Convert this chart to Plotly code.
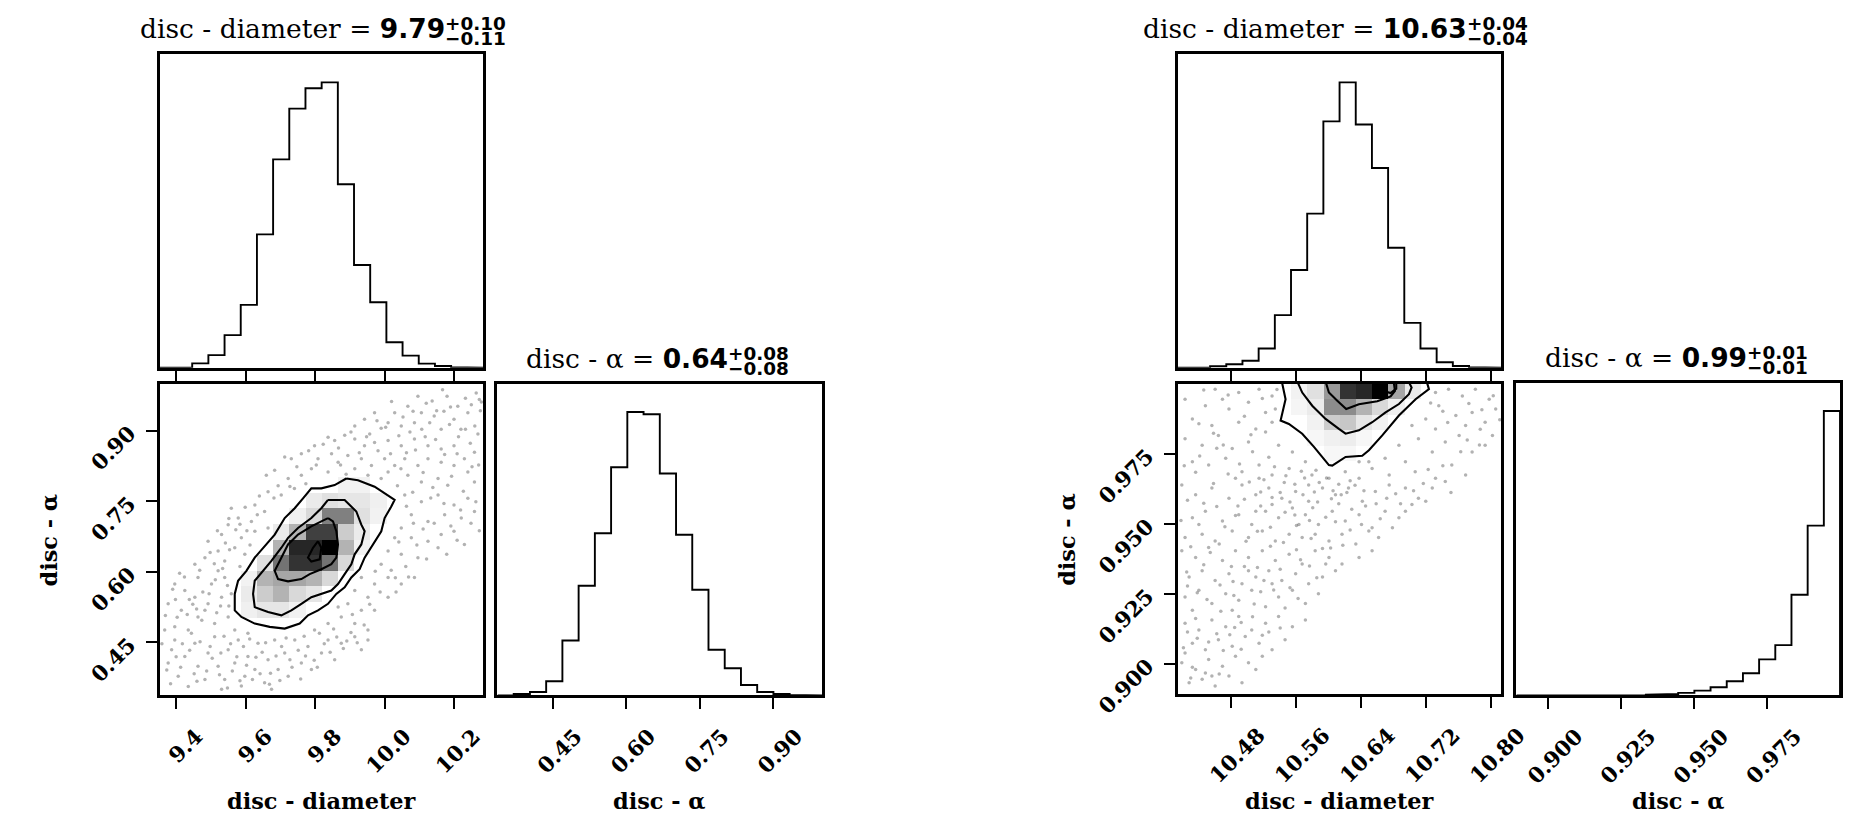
import plotly.graph_objects as go

# ---------------- data ----------------
N_BINS = 20
LEFT_DIAM_RANGE = [9.352, 10.285]
LEFT_ALPHA_RANGE = [0.337, 1.0]
RIGHT_DIAM_RANGE = [10.415, 10.813]
RIGHT_ALPHA_RANGE = [0.889, 1.0]

LEFT_DIAM_TICKS = [9.4, 9.6, 9.8, 10.0, 10.2]
LEFT_DIAM_TICKTEXT = ["9.4", "9.6", "9.8", "10.0", "10.2"]
LEFT_ALPHA_TICKS = [0.45, 0.60, 0.75, 0.90]
LEFT_ALPHA_TICKTEXT = ["0.45", "0.60", "0.75", "0.90"]
RIGHT_DIAM_TICKS = [10.48, 10.56, 10.64, 10.72, 10.80]
RIGHT_DIAM_TICKTEXT = ["10.48", "10.56", "10.64", "10.72", "10.80"]
RIGHT_ALPHA_TICKS = [0.900, 0.925, 0.950, 0.975]
RIGHT_ALPHA_TICKTEXT = ["0.900", "0.925", "0.950", "0.975"]

# relative histogram heights (peak = 1)
LEFT_DIAM_HIST = [0, 0, 0.015, 0.044, 0.114, 0.22, 0.467, 0.73, 0.908, 0.979,
                  1.0, 0.643, 0.36, 0.229, 0.089, 0.042, 0.014, 0.006, 0.002, 0]
LEFT_ALPHA_HIST = [0, 0.005, 0.012, 0.05, 0.194, 0.387, 0.572, 0.805, 1.0, 0.992,
                   0.783, 0.567, 0.373, 0.161, 0.096, 0.037, 0.012, 0.005, 0.002, 0]
RIGHT_DIAM_HIST = [0, 0, 0.005, 0.012, 0.024, 0.067, 0.184, 0.342, 0.54, 0.863,
                   1.0, 0.852, 0.70, 0.42, 0.157, 0.067, 0.019, 0.006, 0.002, 0]
RIGHT_ALPHA_HIST = [0, 0, 0, 0, 0, 0, 0, 0, 0.003, 0.005,
                    0.009, 0.017, 0.029, 0.05, 0.078, 0.127, 0.177, 0.354, 0.597, 1.0]

# 2D density cells: (x bin, y bin from bottom, relative density)
LEFT_DENSITY = [
    (11, 13, 0.05), (12, 13, 0.05),
    (9, 12, 0.08), (10, 12, 0.12), (11, 12, 0.10), (12, 12, 0.10), (13, 12, 0.06),
    (8, 11, 0.06), (9, 11, 0.15), (10, 11, 0.5), (11, 11, 0.5), (12, 11, 0.12), (13, 11, 0.05),
    (7, 10, 0.08), (8, 10, 0.3), (9, 10, 0.75), (10, 10, 0.75), (11, 10, 0.2), (12, 10, 0.08),
    (7, 9, 0.3), (8, 9, 0.85), (9, 9, 0.85), (10, 9, 1.0), (11, 9, 0.3), (12, 9, 0.05),
    (6, 8, 0.12), (7, 8, 0.55), (8, 8, 0.8), (9, 8, 0.8), (10, 8, 0.55), (11, 8, 0.15),
    (5, 7, 0.05), (6, 7, 0.3), (7, 7, 0.35), (8, 7, 0.35), (9, 7, 0.3), (10, 7, 0.15),
    (5, 6, 0.08), (6, 6, 0.2), (7, 6, 0.3), (8, 6, 0.15), (9, 6, 0.1),
    (5, 5, 0.06), (6, 5, 0.1), (7, 5, 0.1), (8, 5, 0.05),
]
RIGHT_DENSITY = [
    (7, 19, 0.05), (8, 19, 0.12), (9, 19, 0.4), (10, 19, 0.8), (11, 19, 0.85), (12, 19, 1.0), (13, 19, 0.35), (14, 19, 0.08),
    (7, 18, 0.04), (8, 18, 0.08), (9, 18, 0.45), (10, 18, 0.45), (11, 18, 0.3), (12, 18, 0.15), (13, 18, 0.06),
    (8, 17, 0.05), (9, 17, 0.2), (10, 17, 0.22), (11, 17, 0.1), (12, 17, 0.05),
    (8, 16, 0.03), (9, 16, 0.06), (10, 16, 0.07), (11, 16, 0.03),
    (9, 15, 0.03), (10, 15, 0.03),
]

# contour lines (outer -> inner)
LEFT_CONTOURS = [
    [(9.8896, 0.7982), (9.9232, 0.7947), (9.9712, 0.7807), (10.0, 0.7667), (10.0288, 0.7526),
     (10.0192, 0.7386), (10.0, 0.7141), (9.9904, 0.6861), (9.9664, 0.658), (9.9424, 0.63),
     (9.928, 0.6054), (9.904, 0.5879), (9.8848, 0.5669), (9.8608, 0.5529), (9.8368, 0.5318),
     (9.808, 0.5178), (9.7792, 0.5073), (9.7552, 0.4898), (9.712, 0.4792), (9.6688, 0.4828),
     (9.6256, 0.4898), (9.5872, 0.5038), (9.568, 0.5178), (9.568, 0.5529), (9.5776, 0.5809),
     (9.6016, 0.602), (9.6256, 0.63), (9.6496, 0.651), (9.6832, 0.679), (9.712, 0.7141),
     (9.7408, 0.7351), (9.7648, 0.7561), (9.7888, 0.7772), (9.8176, 0.7772), (9.856, 0.7842),
     (9.8896, 0.7982)],
    [(9.8368, 0.7526), (9.8848, 0.7526), (9.9184, 0.7281), (9.9328, 0.7001), (9.9424, 0.6861),
     (9.9328, 0.658), (9.9136, 0.637), (9.904, 0.616), (9.8848, 0.5949), (9.8656, 0.5739),
     (9.8464, 0.5599), (9.8176, 0.5529), (9.7888, 0.5458), (9.76, 0.5318), (9.7312, 0.5178),
     (9.7024, 0.5073), (9.664, 0.5143), (9.6256, 0.5248), (9.6208, 0.5529), (9.6256, 0.5809),
     (9.6496, 0.602), (9.6736, 0.623), (9.7024, 0.651), (9.7216, 0.672), (9.7504, 0.693),
     (9.7888, 0.7141), (9.8176, 0.7351), (9.8368, 0.7526)],
    [(9.8368, 0.7141), (9.8512, 0.7071), (9.8608, 0.6861), (9.8656, 0.658), (9.8608, 0.63),
     (9.8464, 0.616), (9.8176, 0.6054), (9.784, 0.5949), (9.76, 0.5844), (9.7216, 0.5795),
     (9.6928, 0.5844), (9.6832, 0.602), (9.6976, 0.623), (9.7216, 0.658), (9.7504, 0.679),
     (9.7888, 0.6966), (9.8176, 0.7071), (9.8368, 0.7141)],
    [(9.808, 0.665), (9.8176, 0.651), (9.8128, 0.6264), (9.7888, 0.6215), (9.7792, 0.63),
     (9.7936, 0.651), (9.808, 0.665)],
]
RIGHT_CONTOURS = [
    [(10.5435, 1.0), (10.5476, 0.9944), (10.5415, 0.9868), (10.5517, 0.9856), (10.5681, 0.9821),
     (10.5825, 0.9774), (10.6009, 0.9709), (10.605, 0.9707), (10.6214, 0.9738), (10.6419, 0.9742),
     (10.6501, 0.9762), (10.6665, 0.9815), (10.687, 0.9886), (10.7075, 0.9944), (10.7239, 0.998),
     (10.7219, 1.0)],
    [(10.5632, 1.0), (10.5681, 0.9968), (10.5804, 0.9921), (10.5968, 0.9874), (10.6132, 0.9838),
     (10.6214, 0.9821), (10.6378, 0.9833), (10.6542, 0.9862), (10.6706, 0.9897), (10.687, 0.9927),
     (10.6993, 0.9962), (10.7026, 0.9986), (10.7001, 1.0)],
    [(10.5976, 1.0), (10.6009, 0.9968), (10.6112, 0.9939), (10.6222, 0.9909), (10.6378, 0.9926),
     (10.6604, 0.9937), (10.6768, 0.9954), (10.6821, 0.9974), (10.6809, 1.0)],
    [(10.6657, 1.0), (10.6673, 0.9974), (10.6768, 0.9966), (10.6837, 0.9982), (10.6837, 1.0)],
]

# individual samples visible outside the outer contour
LEFT_DOTS = [
    (10.264, 0.980), (10.273, 0.966), (10.180, 0.973), (10.150, 0.942), (10.096, 0.973), (10.106, 0.938),
    (10.067, 0.952), (10.029, 0.938), (10.010, 0.917), (9.971, 0.938), (9.942, 0.924), (9.914, 0.910),
    (10.130, 0.917), (10.200, 0.924), (10.240, 0.938), (10.260, 0.910), (10.220, 0.903), (10.163, 0.903),
    (10.086, 0.917), (10.048, 0.910), (10.25, 0.955), (10.19, 0.950), (10.12, 0.958), (10.02, 0.962),
    (9.99, 0.905),
    (9.885, 0.890), (9.856, 0.879), (9.837, 0.886), (9.798, 0.868), (9.760, 0.851), (9.731, 0.840),
    (9.712, 0.844), (9.683, 0.816), (9.659, 0.805), (9.914, 0.882), (9.942, 0.868), (9.971, 0.875),
    (10.010, 0.879), (10.048, 0.868), (10.086, 0.882), (10.125, 0.868), (10.163, 0.861), (10.200, 0.868),
    (10.230, 0.840), (10.259, 0.854), (10.240, 0.812), (10.200, 0.826), (10.163, 0.833), (10.125, 0.840),
    (10.096, 0.826), (10.058, 0.840), (10.029, 0.826), (10.000, 0.840), (9.962, 0.826), (9.933, 0.840),
    (9.894, 0.847), (9.866, 0.833), (9.914, 0.819), (9.952, 0.805), (9.990, 0.798), (10.067, 0.805),
    (10.106, 0.791), (10.154, 0.798), (10.182, 0.784), (10.259, 0.791), (10.010, 0.812), (9.808, 0.840),
    (9.789, 0.819), (9.837, 0.812), (9.760, 0.805), (9.722, 0.798),
    (9.740, 0.777), (9.702, 0.763), (9.664, 0.770), (9.626, 0.742), (9.654, 0.728), (9.616, 0.707),
    (9.578, 0.714), (9.549, 0.700), (9.530, 0.679), (9.587, 0.672), (9.568, 0.651), (9.520, 0.644),
    (9.491, 0.665), (9.482, 0.630), (9.539, 0.623), (9.597, 0.637), (9.453, 0.616), (9.626, 0.686),
    (9.664, 0.693), (9.558, 0.735),
    (10.058, 0.763), (10.106, 0.749), (10.154, 0.763), (10.200, 0.742), (10.240, 0.756), (10.259, 0.728),
    (10.221, 0.714), (10.173, 0.721), (10.125, 0.707), (10.077, 0.721), (10.048, 0.693), (10.029, 0.672),
    (10.077, 0.672), (10.125, 0.665), (10.163, 0.679), (10.200, 0.686), (10.010, 0.644), (10.048, 0.637),
    (10.096, 0.630), (9.990, 0.616), (10.154, 0.651), (10.230, 0.658),
    (9.395, 0.574), (9.424, 0.560), (9.462, 0.588), (9.501, 0.574), (9.539, 0.588), (9.453, 0.546),
    (9.491, 0.532), (9.530, 0.546), (9.414, 0.518), (9.462, 0.504), (9.510, 0.490), (9.549, 0.504),
    (9.395, 0.483), (9.434, 0.476), (9.482, 0.518), (9.568, 0.476), (9.606, 0.469), (9.376, 0.532),
    (9.520, 0.602), (9.558, 0.553),
    (9.933, 0.588), (9.914, 0.560), (9.971, 0.574), (10.010, 0.588), (9.952, 0.546), (9.894, 0.532),
    (9.933, 0.518), (9.875, 0.504), (9.837, 0.490), (9.798, 0.476), (9.914, 0.490), (9.971, 0.518),
    (9.952, 0.476), (10.048, 0.574), (10.086, 0.588), (10.010, 0.546), (9.866, 0.525),
    (9.376, 0.406), (9.386, 0.434), (9.405, 0.378), (9.424, 0.420), (9.434, 0.356), (9.453, 0.448),
    (9.462, 0.399), (9.482, 0.371), (9.491, 0.427), (9.510, 0.462), (9.520, 0.399), (9.539, 0.371),
    (9.549, 0.434), (9.568, 0.406), (9.578, 0.455), (9.597, 0.378), (9.606, 0.420), (9.626, 0.392),
    (9.635, 0.448), (9.654, 0.364), (9.664, 0.413), (9.683, 0.455), (9.693, 0.392), (9.712, 0.427),
    (9.722, 0.378), (9.741, 0.455), (9.760, 0.406), (9.779, 0.441), (9.789, 0.392), (9.818, 0.427),
    (9.837, 0.455), (9.856, 0.413), (9.875, 0.448), (9.914, 0.462), (9.933, 0.434), (9.952, 0.455),
    (9.674, 0.350), (9.443, 0.469), (9.395, 0.455), (9.366, 0.476), (9.530, 0.350), (9.587, 0.357),
    (9.372, 0.391), (9.417, 0.447), (9.451, 0.383), (9.503, 0.416), (9.537, 0.463), (9.561, 0.389),
    (9.593, 0.441), (9.619, 0.371), (9.647, 0.429), (9.671, 0.384), (9.703, 0.441), (9.733, 0.397),
    (9.768, 0.463), (9.797, 0.412), (9.826, 0.447), (9.881, 0.437), (9.903, 0.471), (9.941, 0.487),
    (9.409, 0.597), (9.447, 0.531), (9.476, 0.557), (9.516, 0.513), (9.551, 0.527), (9.583, 0.611),
    (9.431, 0.509), (9.397, 0.541), (9.612, 0.657), (9.571, 0.689), (9.633, 0.721), (9.541, 0.661),
    (9.509, 0.617), (9.693, 0.783), (9.747, 0.823), (9.781, 0.857), (9.823, 0.871), (9.867, 0.863),
    (9.903, 0.897), (9.957, 0.893), (10.017, 0.851), (10.073, 0.897), (10.117, 0.887), (10.143, 0.931),
    (10.187, 0.913), (10.213, 0.887), (10.247, 0.873), (10.271, 0.827), (10.037, 0.783), (10.081, 0.769),
    (10.139, 0.779), (10.193, 0.803), (10.227, 0.771), (10.263, 0.749), (10.191, 0.697), (10.143, 0.703),
    (10.093, 0.657), (10.061, 0.611), (10.019, 0.603), (9.973, 0.601), (9.957, 0.531), (9.907, 0.509),
    (9.853, 0.478), (9.987, 0.557), (10.033, 0.557), (10.063, 0.739), (10.211, 0.952), (10.137, 0.963),
    (10.053, 0.929), (9.978, 0.921), (10.276, 0.942),
    (9.358, 0.447), (9.383, 0.362), (9.399, 0.419), (9.412, 0.397), (9.438, 0.433), (9.459, 0.367),
    (9.468, 0.451), (9.487, 0.389), (9.497, 0.441), (9.524, 0.381), (9.528, 0.427), (9.547, 0.353),
    (9.556, 0.447), (9.574, 0.419), (9.583, 0.368), (9.602, 0.401), (9.611, 0.457), (9.629, 0.418),
    (9.641, 0.383), (9.657, 0.449), (9.668, 0.361), (9.687, 0.421), (9.698, 0.369), (9.716, 0.459),
    (9.727, 0.413), (9.751, 0.433), (9.758, 0.372), (9.772, 0.421), (9.806, 0.397), (9.812, 0.469),
    (9.843, 0.429), (9.862, 0.461), (9.891, 0.453), (9.921, 0.449),
    (9.368, 0.507), (9.389, 0.563), (9.402, 0.503), (9.423, 0.589), (9.437, 0.541), (9.458, 0.521),
    (9.467, 0.603), (9.473, 0.497), (9.494, 0.553), (9.497, 0.641), (9.512, 0.583), (9.527, 0.527),
    (9.533, 0.607), (9.547, 0.571), (9.553, 0.647), (9.518, 0.687), (9.551, 0.713), (9.583, 0.701),
    (9.603, 0.687), (9.598, 0.737),
    (9.927, 0.853), (9.948, 0.887), (9.981, 0.857), (10.003, 0.907), (10.041, 0.889), (10.063, 0.853),
    (10.089, 0.859), (10.107, 0.903), (10.147, 0.881), (10.171, 0.941), (10.173, 0.849), (10.209, 0.851),
    (10.233, 0.903), (10.252, 0.823), (10.269, 0.893), (10.279, 0.961), (10.233, 0.969), (10.167, 0.987),
    (10.082, 0.941), (10.047, 0.819), (10.111, 0.811), (10.133, 0.757), (10.171, 0.745), (10.219, 0.731),
    (10.249, 0.703), (10.273, 0.687), (10.209, 0.667), (10.179, 0.637), (10.111, 0.691), (10.083, 0.703),
    (10.121, 0.627), (10.041, 0.663), (10.069, 0.589), (10.031, 0.587), (9.889, 0.807), (9.873, 0.827),
    (9.847, 0.851), (9.803, 0.827), (9.773, 0.787), (9.727, 0.781), (9.681, 0.757), (9.639, 0.761),
]
RIGHT_DOTS = [
    (10.461, 0.9980), (10.490, 0.9968), (10.515, 0.9980), (10.531, 0.9956), (10.449, 0.9921), (10.478, 0.9909),
    (10.502, 0.9933), (10.523, 0.9897), (10.433, 0.9874), (10.457, 0.9850), (10.490, 0.9862), (10.511, 0.9838),
    (10.531, 0.9862), (10.732, 0.9968), (10.748, 0.9980), (10.765, 0.9956), (10.781, 0.9980), (10.798, 0.9944),
    (10.806, 0.9909), (10.777, 0.9897), (10.757, 0.9886), (10.736, 0.9921), (10.720, 0.9874), (10.703, 0.9850),
    (10.732, 0.9838), (10.769, 0.9850), (10.793, 0.9862), (10.535, 0.9909), (10.424, 0.9944), (10.470, 0.9944),
    (10.424, 0.9803), (10.445, 0.9780), (10.465, 0.9815), (10.482, 0.9768), (10.502, 0.9791), (10.523, 0.9827),
    (10.539, 0.9780), (10.556, 0.9756), (10.572, 0.9721), (10.433, 0.9721), (10.453, 0.9709), (10.474, 0.9733),
    (10.494, 0.9685), (10.515, 0.9709), (10.531, 0.9674), (10.552, 0.9697), (10.580, 0.9674), (10.601, 0.9662),
    (10.621, 0.9685), (10.638, 0.9662), (10.654, 0.9697), (10.670, 0.9733), (10.687, 0.9780), (10.695, 0.9721),
    (10.711, 0.9803), (10.728, 0.9756), (10.744, 0.9791), (10.761, 0.9815), (10.777, 0.9756), (10.793, 0.9780),
    (10.802, 0.9815), (10.675, 0.9674), (10.707, 0.9685), (10.732, 0.9662), (10.752, 0.9709), (10.769, 0.9674),
    (10.650, 0.9721), (10.638, 0.9721),
    (10.420, 0.9638), (10.437, 0.9603), (10.457, 0.9627), (10.478, 0.9591), (10.494, 0.9638), (10.511, 0.9603),
    (10.527, 0.9627), (10.543, 0.9591), (10.560, 0.9615), (10.576, 0.9580), (10.593, 0.9627), (10.609, 0.9603),
    (10.625, 0.9627), (10.642, 0.9580), (10.658, 0.9615), (10.675, 0.9638), (10.695, 0.9627), (10.711, 0.9591),
    (10.728, 0.9627), (10.744, 0.9650), (10.433, 0.9521), (10.449, 0.9544), (10.470, 0.9509), (10.490, 0.9532),
    (10.506, 0.9497), (10.523, 0.9544), (10.539, 0.9521), (10.556, 0.9556), (10.572, 0.9532), (10.588, 0.9497),
    (10.605, 0.9544), (10.621, 0.9509), (10.638, 0.9532), (10.654, 0.9485), (10.670, 0.9544), (10.687, 0.9521),
    (10.703, 0.9568), (10.720, 0.9580), (10.424, 0.9450), (10.445, 0.9462), (10.461, 0.9438), (10.482, 0.9474),
    (10.502, 0.9450), (10.519, 0.9474), (10.535, 0.9438), (10.552, 0.9462), (10.568, 0.9450), (10.584, 0.9462),
    (10.601, 0.9438), (10.617, 0.9462), (10.634, 0.9427), (10.650, 0.9474), (10.662, 0.9450), (10.679, 0.9485),
    (10.695, 0.9544), (10.515, 0.9662), (10.486, 0.9662), (10.531, 0.9568), (10.511, 0.9544), (10.576, 0.9638),
    (10.564, 0.9497),
    (10.420, 0.9403), (10.437, 0.9379), (10.453, 0.9415), (10.470, 0.9368), (10.486, 0.9403), (10.502, 0.9379),
    (10.519, 0.9403), (10.535, 0.9368), (10.552, 0.9391), (10.568, 0.9356), (10.584, 0.9403), (10.601, 0.9379),
    (10.617, 0.9356), (10.638, 0.9379), (10.654, 0.9403), (10.429, 0.9309), (10.445, 0.9332), (10.461, 0.9297),
    (10.478, 0.9321), (10.494, 0.9285), (10.511, 0.9309), (10.527, 0.9332), (10.543, 0.9297), (10.560, 0.9321),
    (10.576, 0.9285), (10.593, 0.9309), (10.609, 0.9332), (10.424, 0.9238), (10.441, 0.9262), (10.457, 0.9215),
    (10.474, 0.9250), (10.490, 0.9226), (10.506, 0.9262), (10.523, 0.9203), (10.539, 0.9238), (10.556, 0.9262),
    (10.572, 0.9215), (10.588, 0.9250), (10.433, 0.9191), (10.482, 0.9191), (10.531, 0.9285), (10.597, 0.9356),
    (10.502, 0.9332),
    (10.424, 0.9144), (10.441, 0.9120), (10.457, 0.9156), (10.474, 0.9132), (10.490, 0.9168), (10.506, 0.9120),
    (10.523, 0.9144), (10.539, 0.9168), (10.556, 0.9132), (10.572, 0.9156), (10.433, 0.9073), (10.449, 0.9050),
    (10.465, 0.9085), (10.482, 0.9062), (10.498, 0.9097), (10.515, 0.9073), (10.531, 0.9050), (10.547, 0.9085),
    (10.420, 0.9003), (10.437, 0.8979), (10.453, 0.9015), (10.470, 0.8991), (10.486, 0.9026), (10.502, 0.9003),
    (10.519, 0.9026), (10.429, 0.8932), (10.445, 0.8944), (10.461, 0.8920), (10.478, 0.8956), (10.494, 0.8932),
    (10.424, 0.9038), (10.457, 0.8956), (10.511, 0.8979),
    (10.427, 0.9583), (10.441, 0.9497), (10.463, 0.9561), (10.486, 0.9529), (10.497, 0.9587), (10.517, 0.9563),
    (10.529, 0.9487), (10.547, 0.9541), (10.561, 0.9493), (10.581, 0.9557), (10.597, 0.9523), (10.613, 0.9571),
    (10.629, 0.9551), (10.546, 0.9647), (10.567, 0.9687), (10.583, 0.9613), (10.606, 0.9617), (10.627, 0.9653),
    (10.491, 0.9713), (10.507, 0.9757), (10.527, 0.9737), (10.463, 0.9769), (10.437, 0.9683), (10.431, 0.9417),
    (10.447, 0.9353), (10.466, 0.9427), (10.481, 0.9347), (10.499, 0.9437), (10.513, 0.9343), (10.529, 0.9419),
    (10.545, 0.9433), (10.561, 0.9407), (10.579, 0.9447), (10.593, 0.9411), (10.427, 0.9277), (10.451, 0.9229),
    (10.467, 0.9281), (10.484, 0.9243), (10.517, 0.9257), (10.547, 0.9199), (10.563, 0.9233), (10.437, 0.9161),
    (10.463, 0.9107), (10.485, 0.9129), (10.519, 0.9101), (10.433, 0.8987), (10.449, 0.8967), (10.471, 0.9047),
    (10.427, 0.9113), (10.659, 0.9571), (10.683, 0.9607), (10.717, 0.9643), (10.741, 0.9707), (10.763, 0.9757),
    (10.787, 0.9837), (10.747, 0.9861), (10.803, 0.9957), (10.441, 0.9857), (10.477, 0.9959), (10.505, 0.9817),
    (10.521, 0.9657), (10.534, 0.9703), (10.548, 0.9671), (10.559, 0.9641), (10.571, 0.9663), (10.585, 0.9691),
    (10.589, 0.9647), (10.598, 0.9663), (10.613, 0.9641), (10.623, 0.9611), (10.633, 0.9637), (10.541, 0.9611),
    (10.553, 0.9577), (10.569, 0.9603), (10.587, 0.9577), (10.604, 0.9589), (10.616, 0.9603), (10.644, 0.9617),
    (10.531, 0.9593), (10.517, 0.9613), (10.503, 0.9649), (10.559, 0.9531), (10.577, 0.9511), (10.609, 0.9507),
    (10.627, 0.9477), (10.641, 0.9497), (10.664, 0.9517), (10.646, 0.9563), (10.672, 0.9591), (10.689, 0.9571),
    (10.419, 0.9511), (10.426, 0.9327), (10.439, 0.9253), (10.447, 0.9573), (10.455, 0.9397), (10.459, 0.9643),
    (10.468, 0.9187), (10.473, 0.9489), (10.477, 0.9677), (10.483, 0.9293), (10.489, 0.9563), (10.493, 0.9147),
    (10.497, 0.9347), (10.509, 0.9213), (10.513, 0.9473), (10.521, 0.9297), (10.533, 0.9263), (10.541, 0.9337),
    (10.553, 0.9271), (10.566, 0.9371), (10.577, 0.9349), (10.586, 0.9307), (10.603, 0.9413), (10.618, 0.9423),
    (10.422, 0.9057), (10.431, 0.8949), (10.439, 0.9091), (10.453, 0.9077), (10.466, 0.8963), (10.479, 0.9103),
    (10.493, 0.9051), (10.507, 0.9167), (10.527, 0.9113), (10.541, 0.9127), (10.423, 0.9707), (10.442, 0.9741),
    (10.459, 0.9823), (10.471, 0.9781), (10.497, 0.9883), (10.519, 0.9947), (10.537, 0.9979), (10.447, 0.9977),
    (10.726, 0.9931), (10.741, 0.9901), (10.773, 0.9929), (10.789, 0.9907), (10.811, 0.9871), (10.786, 0.9781),
    (10.771, 0.9799), (10.723, 0.9693), (10.705, 0.9617), (10.751, 0.9611),
]

DIAM_LABEL = "disc - diameter"
ALPHA_LABEL = "disc - α"
LEFT_TITLES = [("9.79", "+0.10", "−0.11"), ("0.64", "+0.08", "−0.08")]
RIGHT_TITLES = [("10.63", "+0.04", "−0.04"), ("0.99", "+0.01", "−0.01")]

# ---------------- layout geometry ----------------
# target positions are given in screen pixels of the 1863x820 picture
SCREEN_W, SCREEN_H = 1863, 820
SX, SY = 0.986, 0.975          # measured capture scale of the rendered page
W, H = round(SCREEN_W / SX), round(SCREEN_H / SY)
K = 1 / ((SX + SY) / 2)        # size compensation for fonts / lengths
BOX = {1: (160, 484, 54, 369), 2: (160, 484, 385, 698), 3: (498, 823, 385, 698),
       4: (1179, 1503, 54, 369), 5: (1179, 1503, 385, 697), 6: (1518, 1842, 384, 698)}


def px(xs):
    return xs / SCREEN_W


def py(ys):
    return 1 - ys / SCREEN_H


TICKFONT = dict(family="DejaVu Serif", size=round(21 * K, 1), color="black")


def xn(n):
    return "x" if n == 1 else f"x{n}"


def yn(n):
    return "y" if n == 1 else f"y{n}"


def edges(rng):
    step = (rng[1] - rng[0]) / N_BINS
    return [rng[0] + i * step for i in range(N_BINS + 1)]


fig = go.Figure()


def add_hist(n, rng, counts):
    e = edges(rng)
    xs, ys = [e[0]], [0]
    for i, c in enumerate(counts):
        xs += [e[i], e[i + 1]]
        ys += [c, c]
    xs.append(e[-1])
    ys.append(0)
    fig.add_trace(go.Scatter(x=xs, y=ys, mode="lines", line=dict(color="black", width=1.9),
                             xaxis=xn(n), yaxis=yn(n), hoverinfo="skip"))


def add_2d(n, xr, yr, density, dots, contours):
    ex, ey = edges(xr), edges(yr)
    z = [[None] * N_BINS for _ in range(N_BINS)]
    for i, j, v in density:
        z[j][i] = v
    fig.add_trace(go.Heatmap(x=ex, y=ey, z=z, zmin=0, zmax=1,
                             colorscale=[[0, "#ffffff"], [1, "#000000"]], showscale=False,
                             xaxis=xn(n), yaxis=yn(n), hoverinfo="skip"))
    fig.add_trace(go.Scatter(x=[p[0] for p in dots], y=[p[1] for p in dots], mode="markers",
                             marker=dict(size=3.5, color="rgba(0,0,0,0.3)", line=dict(width=0)),
                             xaxis=xn(n), yaxis=yn(n), hoverinfo="skip"))
    for c in contours:
        fig.add_trace(go.Scatter(x=[p[0] for p in c], y=[p[1] for p in c], mode="lines",
                                 line=dict(color="black", width=2.1), xaxis=xn(n), yaxis=yn(n),
                                 hoverinfo="skip"))


add_hist(1, LEFT_DIAM_RANGE, LEFT_DIAM_HIST)
add_2d(2, LEFT_DIAM_RANGE, LEFT_ALPHA_RANGE, LEFT_DENSITY, LEFT_DOTS, LEFT_CONTOURS)
add_hist(3, LEFT_ALPHA_RANGE, LEFT_ALPHA_HIST)
add_hist(4, RIGHT_DIAM_RANGE, RIGHT_DIAM_HIST)
add_2d(5, RIGHT_DIAM_RANGE, RIGHT_ALPHA_RANGE, RIGHT_DENSITY, RIGHT_DOTS, RIGHT_CONTOURS)
add_hist(6, RIGHT_ALPHA_RANGE, RIGHT_ALPHA_HIST)

base = dict(showline=True, mirror=True, linewidth=3, linecolor="black", showgrid=False,
            zeroline=False, ticks="outside", ticklen=11, tickwidth=2, tickcolor="black",
            tickfont=TICKFONT)


def bold(labels):
    return [f"<b>{t}</b>" for t in labels]


def set_axes(n, xr, yr, xt=None, xtt=None, xlab=False, yt=None, ytt=None, shift=20):
    x0, x1, y0, y1 = BOX[n]
    xa = dict(base, domain=[px(x0), px(x1)], anchor=yn(n), range=xr)
    ya = dict(base, domain=[py(y1), py(y0)], anchor=xn(n), range=yr)
    xa.update(tickvals=xt, ticktext=bold(xtt), showticklabels=xlab, tickangle=-45,
              ticklabelshift=round(shift / SX), ticklabelstandoff=6)
    if yt is None:
        ya.update(ticks="", showticklabels=False)
    else:
        ya.update(tickvals=yt, ticktext=bold(ytt), tickangle=-45, ticklabelstandoff=12)
    key = "" if n == 1 else str(n)
    fig.layout["xaxis" + key] = xa
    fig.layout["yaxis" + key] = ya


set_axes(1, LEFT_DIAM_RANGE, [0, 1.1], LEFT_DIAM_TICKS, LEFT_DIAM_TICKTEXT)
set_axes(2, LEFT_DIAM_RANGE, LEFT_ALPHA_RANGE, LEFT_DIAM_TICKS, LEFT_DIAM_TICKTEXT, True,
         LEFT_ALPHA_TICKS, LEFT_ALPHA_TICKTEXT, shift=20)
set_axes(3, LEFT_ALPHA_RANGE, [0, 1.1], LEFT_ALPHA_TICKS, LEFT_ALPHA_TICKTEXT, True, shift=23)
set_axes(4, RIGHT_DIAM_RANGE, [0, 1.1], RIGHT_DIAM_TICKS, RIGHT_DIAM_TICKTEXT)
set_axes(5, RIGHT_DIAM_RANGE, RIGHT_ALPHA_RANGE, RIGHT_DIAM_TICKS, RIGHT_DIAM_TICKTEXT, True,
         RIGHT_ALPHA_TICKS, RIGHT_ALPHA_TICKTEXT, shift=28)
set_axes(6, RIGHT_ALPHA_RANGE, [0, 1.1], RIGHT_ALPHA_TICKS, RIGHT_ALPHA_TICKTEXT, True, shift=28)

ann = []


def add_title(n, split_px, label, value, plus, minus):
    top = BOX[n][2]
    ann.append(dict(x=px(split_px + 1), y=py(top - 8), xanchor="right", yanchor="bottom",
                    text=f'{label} = <span style="font-family:DejaVu Sans"><b>{value}</b></span>',
                    font=dict(family="DejaVu Serif", size=round(26 * K, 1), color="black")))
    ann.append(dict(x=px(split_px - 3), y=py(top - 18), xanchor="left", yanchor="bottom",
                    text=f"<b>{plus}</b>",
                    font=dict(family="DejaVu Sans", size=round(18 * K, 1), color="black")))
    ann.append(dict(x=px(split_px - 3), y=py(top - 3), xanchor="left", yanchor="bottom",
                    text=f"<b>{minus}</b>",
                    font=dict(family="DejaVu Sans", size=round(18 * K, 1), color="black")))


add_title(1, 446, DIAM_LABEL, *LEFT_TITLES[0])
add_title(3, 730, ALPHA_LABEL, *LEFT_TITLES[1])
add_title(4, 1470, DIAM_LABEL, *RIGHT_TITLES[0])
add_title(6, 1750, ALPHA_LABEL, *RIGHT_TITLES[1])

LABFONT = dict(family="DejaVu Serif", size=round(22 * K, 1), color="black")


def add_xlabel(n, text):
    x0, x1 = BOX[n][0], BOX[n][1]
    ann.append(dict(x=px((x0 + x1) / 2), y=py(804), xanchor="center", yanchor="middle",
                    text=f"<b>{text}</b>", font=LABFONT))


def add_ylabel(n, xc, text):
    y0, y1 = BOX[n][2], BOX[n][3]
    ann.append(dict(x=px(xc), y=py((y0 + y1) / 2), xanchor="center", yanchor="middle",
                    text=f"<b>{text}</b>", textangle=-90, font=LABFONT))


add_xlabel(2, DIAM_LABEL)
add_xlabel(3, ALPHA_LABEL)
add_xlabel(5, DIAM_LABEL)
add_xlabel(6, ALPHA_LABEL)
add_ylabel(2, 49, ALPHA_LABEL)
add_ylabel(5, 1068, ALPHA_LABEL)

for a in ann:
    a.update(xref="paper", yref="paper", showarrow=False)

fig.update_layout(width=W, height=H, margin=dict(l=0, r=0, t=0, b=0), autosize=False,
                  paper_bgcolor="white", plot_bgcolor="white", showlegend=False,
                  annotations=ann)

fig.write_html("out.html")
